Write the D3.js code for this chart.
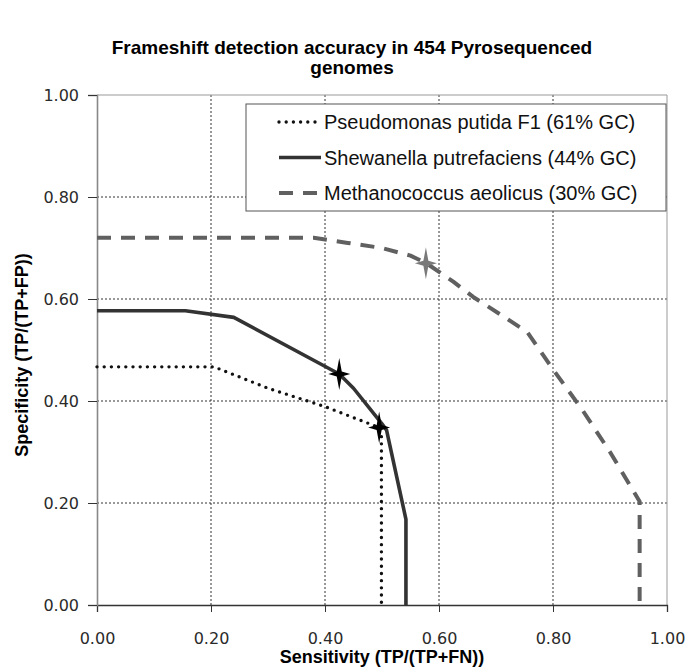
<!DOCTYPE html>
<html><head><meta charset="utf-8">
<script src="https://cdn.jsdelivr.net/npm/d3@7"></script>
<style>html,body{margin:0;padding:0;background:#fff;}</style>
</head><body>
<svg id="chart" width="689" height="669"></svg>
<script>
// ---- data ----
const seriesNames = ["Pseudomonas putida F1 (61% GC)", "Shewanella putrefaciens (44% GC)", "Methanococcus aeolicus (30% GC)"];
const pseudomonasX = [0.00, 0.205, 0.30, 0.40, 0.495, 0.499, 0.499];
const pseudomonasY = [0.467, 0.467, 0.425, 0.389, 0.348, 0.330, 0.000];
const shewanellaX = [0.00, 0.155, 0.24, 0.425, 0.45, 0.50, 0.508, 0.542, 0.542];
const shewanellaY = [0.577, 0.577, 0.564, 0.453, 0.425, 0.355, 0.343, 0.168, 0.000];
const methanoX = [0.00, 0.38, 0.44, 0.50, 0.55, 0.578, 0.625, 0.66, 0.71, 0.755, 0.80, 0.85, 0.90, 0.952, 0.952];
const methanoY = [0.720, 0.720, 0.710, 0.700, 0.685, 0.670, 0.634, 0.604, 0.568, 0.535, 0.462, 0.385, 0.300, 0.203, 0.000];
const starX = [0.495, 0.425, 0.577];
const starY = [0.348, 0.453, 0.670];
const starSeries = [0, 1, 2];
const tickValues = [0, 0.2, 0.4, 0.6, 0.8, 1.0];
const titleLines = ["Frameshift detection accuracy in 454 Pyrosequenced", "genomes"];
const xTitle = "Sensitivity (TP/(TP+FN))";
const yTitle = "Specificity (TP/(TP+FP))";

// ---- layout / style ----
const W = 689, H = 669;
const m = {left: 97, top: 95, right: 22, bottom: 64};
const pw = W - m.left - m.right, ph = H - m.top - m.bottom;
const svg = d3.select("#chart");
const x = d3.scaleLinear().domain([0, 1]).range([m.left, m.left + pw]);
const y = d3.scaleLinear().domain([0, 1]).range([m.top + ph, m.top]);

const styles = [
  {stroke: "#111", width: 3.4, dash: "0,7.2", cap: "round"},
  {stroke: "#333", width: 3.6, dash: null, cap: "butt"},
  {stroke: "#606060", width: 4, dash: "14,10", cap: "butt"}
];
const starColors = ["#000", "#000", "#7a7a7a"];

// gridlines
const grid = svg.append("g");
tickValues.filter(v => v > 0 && v < 1).forEach(v => {
  grid.append("line").attr("x1", x(v)).attr("x2", x(v)).attr("y1", y(0)).attr("y2", y(1))
    .attr("stroke", "#333").attr("stroke-width", 1).attr("stroke-dasharray", "2,2");
  grid.append("line").attr("x1", x(0)).attr("x2", x(1)).attr("y1", y(v)).attr("y2", y(v))
    .attr("stroke", "#333").attr("stroke-width", 1).attr("stroke-dasharray", "2,2");
});
// frame top/right
svg.append("line").attr("x1", x(0)).attr("x2", x(1)).attr("y1", y(1)).attr("y2", y(1)).attr("stroke", "#999");
svg.append("line").attr("x1", x(1)).attr("x2", x(1)).attr("y1", y(0)).attr("y2", y(1)).attr("stroke", "#999");

// axes
const fmt = d3.format(".2f");
const xAxis = svg.append("g").attr("transform", `translate(0,${y(0)})`)
  .call(d3.axisBottom(x).tickValues(tickValues).tickFormat(fmt).tickSize(7).tickPadding(21));
const yAxis = svg.append("g").attr("transform", `translate(${x(0)},0)`)
  .call(d3.axisLeft(y).tickValues(tickValues).tickFormat(fmt).tickSize(9).tickPadding(9));
xAxis.select(".domain").attr("stroke", "#333").attr("stroke-width", 1.3);
yAxis.select(".domain").attr("stroke", "#888").attr("stroke-width", 1.6);
[xAxis, yAxis].forEach(a => {
  a.selectAll(".tick line").attr("stroke", "#333");
  a.selectAll(".tick text").attr("font-family", "'DejaVu Sans', sans-serif").attr("font-size", 16).attr("fill", "#2a2a2a");
});

// series lines
const line = d3.line().x(d => x(d[0])).y(d => y(d[1]));
const series = [
  d3.zip(pseudomonasX, pseudomonasY),
  d3.zip(shewanellaX, shewanellaY),
  d3.zip(methanoX, methanoY)
];
series.forEach((pts, i) => {
  const s = styles[i];
  svg.append("path").attr("d", line(pts)).attr("fill", "none")
    .attr("stroke", s.stroke).attr("stroke-width", s.width)
    .attr("stroke-dasharray", s.dash).attr("stroke-linecap", s.cap).attr("stroke-linejoin", "round");
});

// stars
function starPath(cx, cy, rv, rh, ri) {
  return `M${cx},${cy - rv}L${cx + ri},${cy - ri}L${cx + rh},${cy}L${cx + ri},${cy + ri}L${cx},${cy + rv}L${cx - ri},${cy + ri}L${cx - rh},${cy}L${cx - ri},${cy - ri}Z`;
}
starX.forEach((sx, i) => {
  svg.append("path").attr("d", starPath(x(sx), y(starY[i]), 16, 11, 2.5))
    .attr("fill", starColors[starSeries[i]]);
});

// legend
const lg = svg.append("g");
lg.append("rect").attr("x", 246).attr("y", 104).attr("width", 420).attr("height", 107)
  .attr("fill", "#fff").attr("stroke", "#555").attr("stroke-width", 1);
seriesNames.forEach((name, i) => {
  const yy = 122 + i * 35.5;
  const s = styles[i];
  lg.append("line").attr("x1", 279).attr("x2", 321).attr("y1", yy).attr("y2", yy)
    .attr("stroke", s.stroke).attr("stroke-width", s.width)
    .attr("stroke-dasharray", s.dash).attr("stroke-linecap", s.cap);
  lg.append("text").attr("x", 324).attr("y", yy).attr("dy", "0.36em")
    .attr("font-family", "'Liberation Sans', Arial, sans-serif").attr("font-size", 20).attr("fill", "#111")
    .text(name);
});

// titles
const t = svg.append("text").attr("text-anchor", "middle")
  .attr("font-family", "'Liberation Sans', Arial, sans-serif").attr("font-weight", "bold")
  .attr("font-size", 19).attr("fill", "#000");
titleLines.forEach((l, i) => t.append("tspan").attr("x", 352).attr("y", 54 + i * 20).text(l));
svg.append("text").attr("x", x(0.5)).attr("y", 663).attr("text-anchor", "middle")
  .attr("font-family", "'Liberation Sans', Arial, sans-serif").attr("font-weight", "bold")
  .attr("font-size", 18).attr("fill", "#000").text(xTitle);
svg.append("text").attr("transform", `translate(28,355) rotate(-90)`).attr("text-anchor", "middle")
  .attr("font-family", "'Liberation Sans', Arial, sans-serif").attr("font-weight", "bold")
  .attr("font-size", 18).attr("fill", "#000").text(yTitle);
</script>
</body></html>
